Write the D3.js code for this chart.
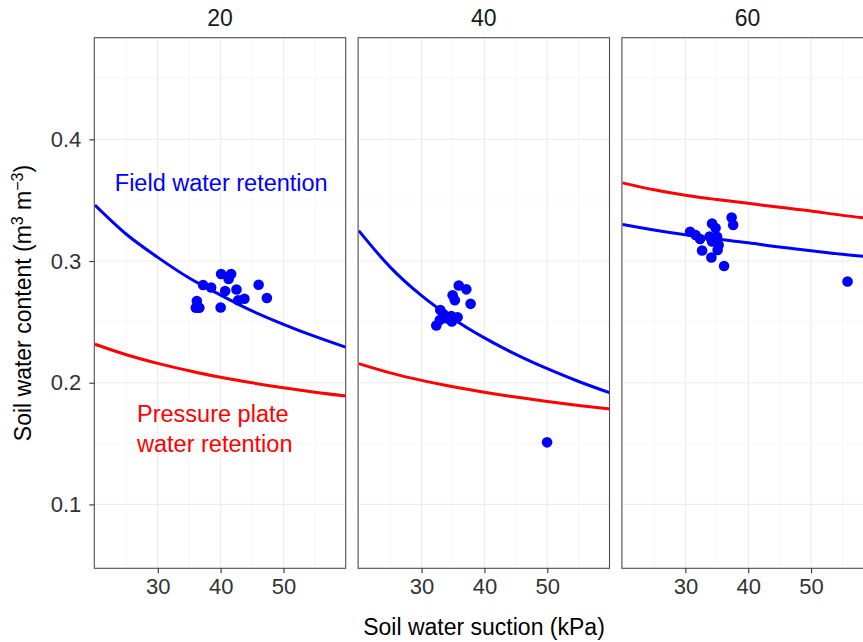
<!DOCTYPE html>
<html>
<head>
<meta charset="utf-8">
<script src="https://cdn.jsdelivr.net/npm/d3@7"></script>
<style>
  body { margin: 0; background: #ffffff; }
  svg { display: block; }
  text { font-family: "Liberation Sans", Arial, Helvetica, sans-serif; }
</style>
</head>
<body>
<svg id="chart" width="863" height="642"></svg>
<script>
// Facets shown as strip titles
const facets = ["20", "40", "60"];

// Axis ticks
const xMajor = [30, 40, 50];
const xMinor = [25, 35, 45, 55];
const yMajor = [0.1, 0.2, 0.3, 0.4];
const yMinor = [0.15, 0.25, 0.35, 0.45];

// Fitted retention curves, sampled along suction (kPa)
const curveSuction = [20, 25, 30, 35, 40, 45, 50, 55, 60];
const field20 = [0.346, 0.322, 0.303, 0.286, 0.272, 0.259, 0.248, 0.238, 0.229];
const field40 = [0.325, 0.295, 0.2715, 0.2526, 0.2368, 0.2233, 0.2115, 0.201, 0.1916];
const field60 = [0.330, 0.3255, 0.3215, 0.318, 0.315, 0.3115, 0.3085, 0.3055, 0.303];
const plate20 = [0.2316, 0.223, 0.2159, 0.2099, 0.2045, 0.1999, 0.1958, 0.1921, 0.189];
const plate40 = [0.2157, 0.2081, 0.2019, 0.1967, 0.1922, 0.1882, 0.1846, 0.1813, 0.1784];
const plate60 = [0.3642, 0.3585, 0.354, 0.3505, 0.3474, 0.3442, 0.3411, 0.3375, 0.3345];

// Field observations: suction (kPa) and water content (m3 m-3)
const suction20 = [40.08, 41.67, 41.27, 37.21, 38.49, 40.72, 42.52, 46.05, 47.36, 43.79, 42.79, 36.21, 36.05, 36.61, 40.0];
const content20 = [0.2893, 0.2893, 0.2852, 0.2803, 0.2782, 0.2753, 0.2766, 0.2805, 0.2696, 0.269, 0.2678, 0.2671, 0.2616, 0.2616, 0.2618];
const suction40 = [35.92, 37.12, 34.94, 35.29, 37.8, 32.98, 32.34, 32.9, 34.01, 34.73, 35.73, 34.81, 33.46, 49.97];
const content40 = [0.2799, 0.2767, 0.2719, 0.2677, 0.2648, 0.2597, 0.247, 0.2515, 0.2529, 0.2548, 0.2537, 0.2503, 0.2565, 0.151];
const suction60 = [37.36, 37.6, 34.25, 34.81, 30.75, 31.62, 32.34, 33.85, 35.05, 34.25, 35.29, 35.13, 32.66, 34.14, 36.16, 55.8];
const content60 = [0.3357, 0.3296, 0.3308, 0.3271, 0.3241, 0.3214, 0.3181, 0.3201, 0.32, 0.316, 0.3131, 0.309, 0.3086, 0.3029, 0.2959, 0.2832];

const fieldCurves = [field20, field40, field60];
const plateCurves = [plate20, plate40, plate60];
const suctions = [suction20, suction40, suction60];
const contents = [content20, content40, content60];

const fieldColor = "#0000FF";
const plateColor = "#FF0000";

// Layout
const panelTop = 37.7, panelBottom = 568.3;
const panelWidth = 251.4, panelStep = 263.8, firstLeft = 94.3;
const tickFont = 22, titleFont = 23, labelFont = 23.5;

const svg = d3.select("#chart");
svg.append("rect").attr("width", 863).attr("height", 642).attr("fill", "#ffffff");

const y = d3.scaleLinear().domain([0.0475, 0.4835]).range([panelBottom, panelTop]);

facets.forEach((name, i) => {
  const left = firstLeft + i * panelStep;
  const x = d3.scaleLinear().domain([19.9, 59.9]).range([left, left + panelWidth]);
  const g = svg.append("g");

  const clipId = "clip" + i;
  svg.append("clipPath").attr("id", clipId)
    .append("rect").attr("x", left).attr("y", panelTop)
    .attr("width", panelWidth).attr("height", panelBottom - panelTop);

  // panel background
  g.append("rect").attr("x", left).attr("y", panelTop)
    .attr("width", panelWidth).attr("height", panelBottom - panelTop)
    .attr("fill", "#ffffff");

  // minor grid
  g.selectAll(".vminor").data(xMinor).enter().append("line")
    .attr("x1", d => x(d)).attr("x2", d => x(d))
    .attr("y1", panelTop).attr("y2", panelBottom)
    .attr("stroke", "#F2F2F2").attr("stroke-width", 0.6);
  g.selectAll(".hminor").data(yMinor).enter().append("line")
    .attr("x1", left).attr("x2", left + panelWidth)
    .attr("y1", d => y(d)).attr("y2", d => y(d))
    .attr("stroke", "#F2F2F2").attr("stroke-width", 0.6);
  // major grid
  g.selectAll(".vmajor").data(xMajor).enter().append("line")
    .attr("x1", d => x(d)).attr("x2", d => x(d))
    .attr("y1", panelTop).attr("y2", panelBottom)
    .attr("stroke", "#EBEBEB").attr("stroke-width", 1.1);
  g.selectAll(".hmajor").data(yMajor).enter().append("line")
    .attr("x1", left).attr("x2", left + panelWidth)
    .attr("y1", d => y(d)).attr("y2", d => y(d))
    .attr("stroke", "#EBEBEB").attr("stroke-width", 1.1);

  const line = d3.line()
    .x((d, k) => x(curveSuction[k]))
    .y(d => y(d))
    .curve(d3.curveMonotoneX);

  const plot = g.append("g").attr("clip-path", `url(#${clipId})`);
  plot.append("path").datum(plateCurves[i]).attr("d", line)
    .attr("fill", "none").attr("stroke", plateColor).attr("stroke-width", 3);
  plot.append("path").datum(fieldCurves[i]).attr("d", line)
    .attr("fill", "none").attr("stroke", fieldColor).attr("stroke-width", 3);

  plot.selectAll(".pt").data(suctions[i]).enter().append("circle")
    .attr("cx", d => x(d))
    .attr("cy", (d, k) => y(contents[i][k]))
    .attr("r", 5.3)
    .attr("fill", fieldColor);

  // panel border
  g.append("rect").attr("x", left).attr("y", panelTop)
    .attr("width", panelWidth).attr("height", panelBottom - panelTop)
    .attr("fill", "none").attr("stroke", "#4D4D4D").attr("stroke-width", 1.1);

  // strip title
  g.append("text").attr("x", left + panelWidth / 2).attr("y", 26)
    .attr("text-anchor", "middle").attr("font-size", titleFont).attr("fill", "#1A1A1A")
    .text(name);

  // x axis
  const xAxis = d3.axisBottom(x).tickValues(xMajor).tickSize(5).tickPadding(5).tickFormat(d3.format("d"));
  const ax = g.append("g").attr("transform", `translate(0,${panelBottom})`).call(xAxis);
  ax.select(".domain").remove();
  ax.selectAll(".tick line").attr("stroke", "#333333").attr("stroke-width", 1.1);
  ax.selectAll(".tick text").attr("font-size", tickFont).attr("fill", "#333333")
    .attr("font-family", "Liberation Sans, Arial, sans-serif");

  if (i === 0) {
    const yAxis = d3.axisLeft(y).tickValues(yMajor).tickSize(5).tickPadding(8).tickFormat(d3.format(".1f"));
    const ay = g.append("g").attr("transform", `translate(${left},0)`).call(yAxis);
    ay.select(".domain").remove();
    ay.selectAll(".tick line").attr("stroke", "#333333").attr("stroke-width", 1.1);
    ay.selectAll(".tick text").attr("font-size", tickFont).attr("fill", "#333333")
      .attr("font-family", "Liberation Sans, Arial, sans-serif");

    // curve labels
    g.append("text").attr("x", x(40.1)).attr("y", y(0.3575))
      .attr("text-anchor", "middle").attr("font-size", labelFont).attr("fill", fieldColor)
      .text("Field water retention");
    g.append("text").attr("x", x(26.7)).attr("y", y(0.1677))
      .attr("text-anchor", "start").attr("font-size", labelFont).attr("fill", plateColor)
      .text("Pressure plate");
    g.append("text").attr("x", x(26.7)).attr("y", y(0.1431))
      .attr("text-anchor", "start").attr("font-size", labelFont).attr("fill", plateColor)
      .text("water retention");
  }
});

// axis titles
svg.append("text").attr("x", 484).attr("y", 635)
  .attr("text-anchor", "middle").attr("font-size", titleFont).attr("fill", "#000000")
  .text("Soil water suction (kPa)");

const yTitle = svg.append("text")
  .attr("transform", `translate(31,${(panelTop + panelBottom) / 2}) rotate(-90)`)
  .attr("text-anchor", "middle").attr("font-size", titleFont).attr("fill", "#000000");
yTitle.append("tspan").text("Soil water content (m");
yTitle.append("tspan").attr("baseline-shift", "super").attr("font-size", 16).text("3");
yTitle.append("tspan").text(" m");
yTitle.append("tspan").attr("baseline-shift", "super").attr("font-size", 16).text("\u22123");
yTitle.append("tspan").text(")");
</script>
</body>
</html>
